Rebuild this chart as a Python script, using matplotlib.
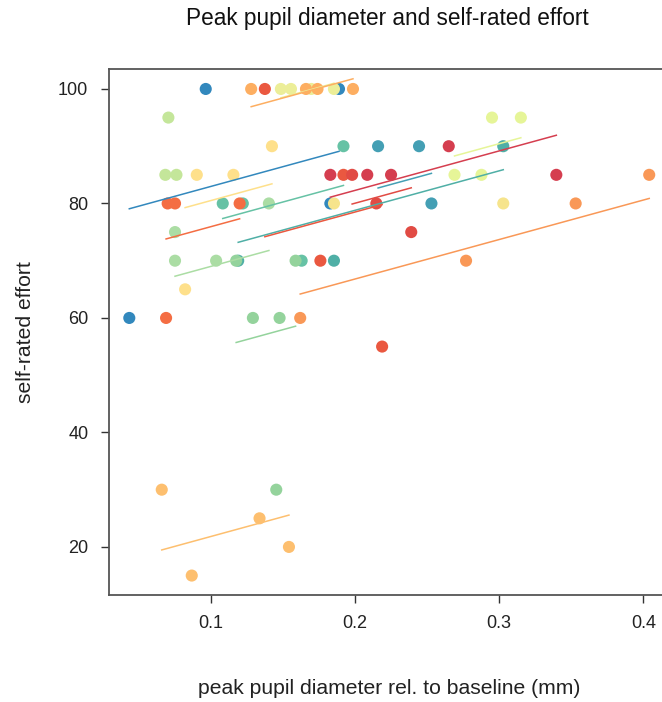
import numpy as np
import matplotlib
matplotlib.use("Agg")
import matplotlib.pyplot as plt

plt.rcParams['font.family'] = ['Liberation Sans', 'DejaVu Sans']

# one entry per subject: peak pupil diameter (mm) and self-rated effort
subj_x = [
    [0.0435, 0.0965, 0.1829, 0.1889],
    [0.216, 0.2444, 0.253],
    [0.119, 0.1854, 0.3028],
    [0.1083, 0.1222, 0.163, 0.192],
    [0.1176, 0.1292, 0.1454, 0.1477, 0.1588],
    [0.0752, 0.0752, 0.1037, 0.1403],
    [0.0685, 0.0706, 0.0762],
    [0.269, 0.2877, 0.295, 0.315],
    [0.1486, 0.1556, 0.1697, 0.1854],
    [0.0822, 0.0903, 0.1157, 0.1424],
    [0.1854, 0.3028],
    [0.066, 0.0868, 0.1338, 0.1542],
    [0.128, 0.166, 0.174, 0.1986],
    [0.162, 0.277, 0.353, 0.404],
    [0.069, 0.0701, 0.0752, 0.12],
    [0.1375, 0.176, 0.192, 0.2188],
    [0.198, 0.2148, 0.239],
    [0.1829, 0.2085, 0.225, 0.265, 0.3396],
]
subj_y = [
    [60, 100, 80, 100],
    [90, 90, 80],
    [70, 70, 90],
    [80, 80, 70, 90],
    [70, 60, 30, 60, 70],
    [75, 70, 70, 80],
    [85, 95, 85],
    [85, 85, 95, 95],
    [100, 100, 100, 100],
    [65, 85, 85, 90],
    [80, 80],
    [30, 15, 25, 20],
    [100, 100, 100, 100],
    [60, 70, 80, 85],
    [60, 80, 80, 80],
    [100, 70, 85, 55],
    [85, 80, 75],
    [85, 85, 85, 90, 85],
]
subj_colors = ["#3288BD", "#449FB4", "#4FAFA6", "#66C2A5", "#94D39C", "#ABDDA4",
               "#C4E69A", "#E6F598", "#ECEE98", "#FEE08B", "#F6E48C", "#FDBF6F",
               "#FDAE61", "#F99857", "#F46D43", "#EA5840", "#E14B44", "#D53E4F"]

# fitted lines: common slope, one intercept per subject (None = no line visible)
slope = 69.0
intercepts = [76.07, 67.8, 65.0, 69.9, 47.6, 62.1, None, 69.74, 88.2, 73.6, None,
              14.92, 88.07, 53.0, 69.04, 64.7, 66.24, 68.48]

fig = plt.figure(figsize=(6.62, 7.02), dpi=100)
ax = fig.add_axes([0.1639, 0.1524, 1.0121 - 0.1639, 0.901 - 0.1524])

for xs, ys, col in zip(subj_x, subj_y, subj_colors):
    ax.scatter(xs, ys, s=76, color=col, edgecolors='none', zorder=2)

for xs, col, a in zip(subj_x, subj_colors, intercepts):
    if a is None:
        continue
    lx = np.array([min(xs), max(xs)])
    ax.plot(lx, a + slope * lx, color=col, lw=1.1, zorder=3)

all_x = np.concatenate([np.array(v, float) for v in subj_x])
all_y = np.concatenate([np.array(v, float) for v in subj_y])
xr = all_x.max() - all_x.min()
yr = all_y.max() - all_y.min()
ax.set_xlim(all_x.min() - 0.04 * xr, all_x.max() + 0.04 * xr)
ax.set_ylim(all_y.min() - 0.04 * yr, all_y.max() + 0.04 * yr)

ax.set_xticks([0.1, 0.2, 0.3, 0.4])
ax.set_xticklabels(["0.1", "0.2", "0.3", "0.4"])
ax.set_yticks([20, 40, 60, 80, 100])
ax.tick_params(axis='both', length=5.5, width=1.0, color="#333333",
               labelsize=13, labelcolor="#222222", pad=9)

for sp in ax.spines.values():
    sp.set_color("#555555")
    sp.set_linewidth(1.3)

ax.set_xlabel("peak pupil diameter rel. to baseline (mm)", fontsize=15.2,
              color="#222222", labelpad=34)
ax.set_ylabel("self-rated effort", fontsize=15.2, color="#222222", labelpad=17)
fig.text(0.585, 0.973, "Peak pupil diameter and self-rated effort",
         ha='center', va='center', fontsize=16.3, color="#111111")

fig.savefig("out.png", dpi=100)
